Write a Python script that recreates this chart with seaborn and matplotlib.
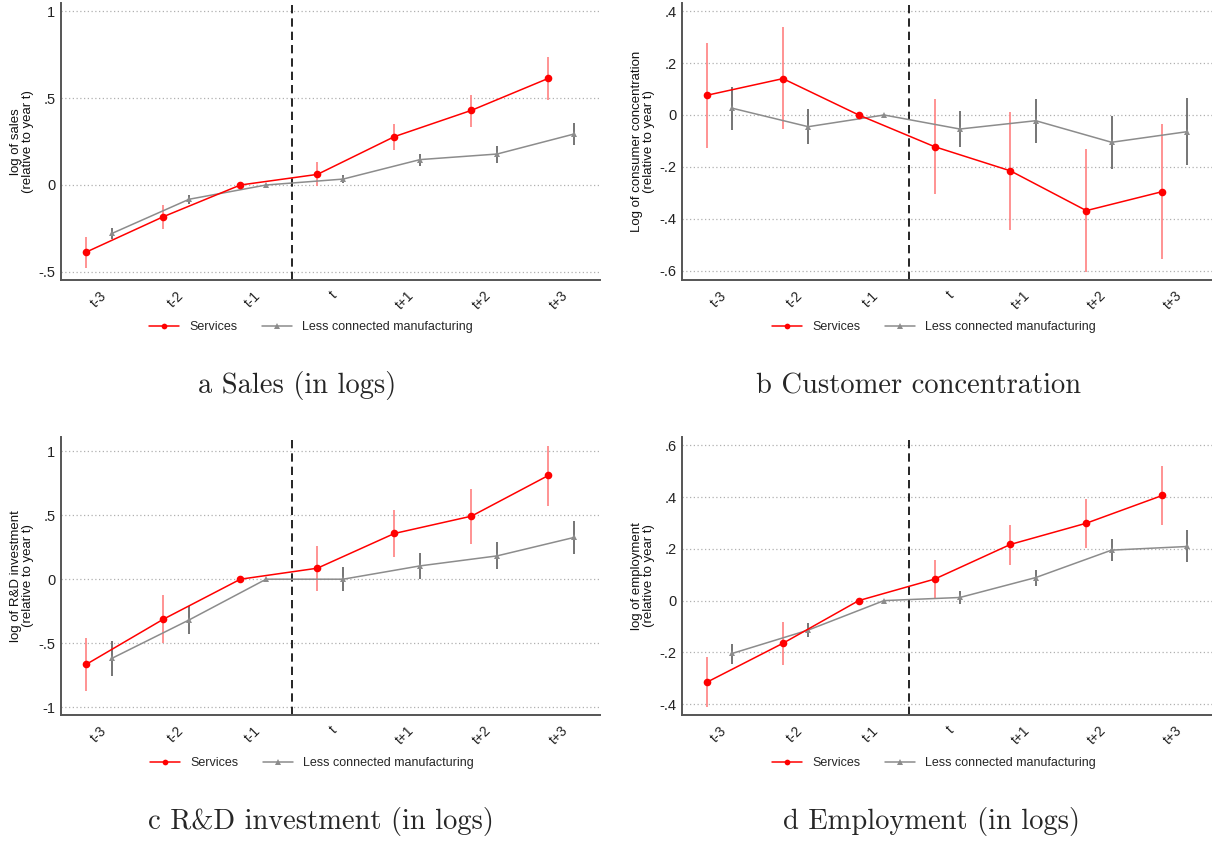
import numpy as np
import pandas as pd
import seaborn as sns
import matplotlib.pyplot as plt

# Dados
periodos = ['t-3', 't-2', 't-1', 't', 't+1', 't+2', 't+3']

# a) vendas
vendas_serv = [-0.385, -0.182, 0, 0.061, 0.278, 0.429, 0.613]
vendas_serv_lo = [-0.475, -0.251, 0, -0.006, 0.203, 0.335, 0.489]
vendas_serv_hi = [-0.300, -0.115, 0, 0.130, 0.350, 0.519, 0.737]
vendas_manu = [-0.278, -0.082, 0, 0.034, 0.146, 0.178, 0.293]
vendas_manu_lo = [-0.308, -0.109, 0, 0.010, 0.110, 0.128, 0.232]
vendas_manu_hi = [-0.247, -0.057, 0, 0.058, 0.178, 0.226, 0.356]

# b) concentração de clientes
conc_serv = [0.076, 0.140, 0, -0.122, -0.215, -0.368, -0.295]
conc_serv_lo = [-0.126, -0.055, 0, -0.303, -0.442, -0.605, -0.554]
conc_serv_hi = [0.276, 0.337, 0, 0.060, 0.012, -0.131, -0.036]
conc_manu = [0.026, -0.045, 0, -0.054, -0.022, -0.105, -0.064]
conc_manu_lo = [-0.056, -0.112, 0, -0.123, -0.106, -0.209, -0.191]
conc_manu_hi = [0.106, 0.023, 0, 0.014, 0.063, -0.003, 0.065]

# c) P&D
rd_serv = [-0.664, -0.312, 0, 0.086, 0.357, 0.492, 0.810]
rd_serv_lo = [-0.872, -0.500, 0, -0.091, 0.174, 0.276, 0.573]
rd_serv_hi = [-0.458, -0.125, 0, 0.260, 0.539, 0.706, 1.042]
rd_manu = [-0.617, -0.318, 0, 0, 0.104, 0.182, 0.326]
rd_manu_lo = [-0.755, -0.424, 0, -0.091, 0.000, 0.076, 0.198]
rd_manu_hi = [-0.482, -0.208, 0, 0.094, 0.206, 0.289, 0.451]

# d) emprego
emp_serv = [-0.315, -0.165, 0, 0.083, 0.217, 0.299, 0.406]
emp_serv_lo = [-0.413, -0.248, 0, 0.008, 0.139, 0.205, 0.292]
emp_serv_hi = [-0.217, -0.084, 0, 0.157, 0.293, 0.394, 0.521]
emp_manu = [-0.204, -0.114, 0, 0.012, 0.089, 0.195, 0.209]
emp_manu_lo = [-0.245, -0.142, 0, -0.013, 0.057, 0.152, 0.148]
emp_manu_hi = [-0.168, -0.088, 0, 0.037, 0.119, 0.237, 0.271]

sns.set_theme(style="white")
plt.rcParams['font.family'] = ['Liberation Sans', 'DejaVu Sans']

fig = plt.figure(figsize=(12.12, 8.42), dpi=100)

W, H = 1212, 842
RED = '#ff0000'
RED_CI = '#ff8080'
GREY = '#8c8c8c'
GREY_CI = '#6a6a6a'


def painel(pos, serv, s_lo, s_hi, manu, m_lo, m_hi, yticks, ylabs, ylim,
           ylabel, leg_xy, caption, cap_xy):
    ax = fig.add_axes(pos)
    x = np.arange(1, len(periodos) + 1)
    xs = x.astype(float)
    xm = x + 1 / 3

    ax.vlines(xs, s_lo, s_hi, color=RED_CI, lw=1.2, zorder=2)
    ax.vlines(xm, m_lo, m_hi, color=GREY_CI, lw=1.3, zorder=2)

    df_s = pd.DataFrame({'x': xs, 'y': serv})
    df_m = pd.DataFrame({'x': xm, 'y': manu})
    sns.lineplot(data=df_s, x='x', y='y', ax=ax, color=RED, marker='o',
                 markersize=5.5, markeredgewidth=0, linewidth=1.1,
                 label='Services', zorder=4)
    sns.lineplot(data=df_m, x='x', y='y', ax=ax, color=GREY, marker='^',
                 markersize=5, markeredgewidth=0, linewidth=1.1,
                 label='Less connected manufacturing', zorder=3)

    ax.axvline(3 + 2 / 3, color='black', lw=1.2, ls=(0, (5, 3)), zorder=1)

    ax.set_xlim(0.67, 7.67)
    ax.set_ylim(*ylim)
    ax.set_xticks(x + 1 / 6)
    ax.set_xticklabels(periodos, rotation=45, ha='right', va='top',
                       rotation_mode='anchor', fontsize=10)
    ax.set_yticks(yticks)
    ax.set_yticklabels(ylabs, fontsize=10.5)
    ax.tick_params(axis='both', length=0, pad=4, colors='#222222')
    ax.tick_params(axis='x', pad=6)
    ax.yaxis.grid(True, ls=(0, (1, 2)), color='#b0b0b0', lw=0.9)
    ax.set_axisbelow(True)

    for s in ['top', 'right']:
        ax.spines[s].set_visible(False)
    for s in ['left', 'bottom']:
        ax.spines[s].set_color('#555555')
        ax.spines[s].set_linewidth(1.4)

    ax.set_xlabel('')
    ax.set_ylabel(ylabel, fontsize=9.5, linespacing=1.05, color='#111111')
    ax.yaxis.set_label_coords(-0.05, 0.5)

    ax.legend(loc='center', bbox_to_anchor=(leg_xy[0] / W, 1 - leg_xy[1] / H),
              bbox_transform=fig.transFigure, ncol=2, frameon=False,
              fontsize=9, handlelength=2.4, columnspacing=2.0,
              handletextpad=0.8, markerscale=0.75)

    fig.text(cap_xy[0] / W, 1 - cap_xy[1] / H, caption, ha='center',
             va='center', fontsize=20.5, family=['cmr10', 'DejaVu Serif'])
    return ax


top_b, top_h = 1 - 280 / H, 277 / H
bot_b, bot_h = 1 - 715 / H, 278 / H
left_a, w_a = 61 / W, 539 / W
left_b, w_b = 682 / W, 531 / W

painel([left_a, top_b, w_a, top_h], vendas_serv, vendas_serv_lo, vendas_serv_hi,
       vendas_manu, vendas_manu_lo, vendas_manu_hi,
       [-0.5, 0, 0.5, 1], ['-.5', '0', '.5', '1'], (-0.546, 1.046),
       'log of sales\n(relative to year t)', (311, 327),
       'a Sales (in logs)', (297, 386))

painel([left_b, top_b, w_b, top_h], conc_serv, conc_serv_lo, conc_serv_hi,
       conc_manu, conc_manu_lo, conc_manu_hi,
       [-0.6, -0.4, -0.2, 0, 0.2, 0.4], ['-.6', '-.4', '-.2', '0', '.2', '.4'],
       (-0.635, 0.431),
       'Log of consumer concentration\n(relative to year t)', (934, 327),
       'b Customer concentration', (919, 386))

painel([left_a, bot_b, w_a, bot_h], rd_serv, rd_serv_lo, rd_serv_hi,
       rd_manu, rd_manu_lo, rd_manu_hi,
       [-1, -0.5, 0, 0.5, 1], ['-1', '-.5', '0', '.5', '1'], (-1.06, 1.11),
       'log of R&D investment\n(relative to year t)', (312, 763),
       'c R&D investment (in logs)', (321, 822))

painel([left_b, bot_b, w_b, bot_h], emp_serv, emp_serv_lo, emp_serv_hi,
       emp_manu, emp_manu_lo, emp_manu_hi,
       [-0.4, -0.2, 0, 0.2, 0.4, 0.6], ['-.4', '-.2', '0', '.2', '.4', '.6'],
       (-0.442, 0.632),
       'log of employment\n(relative to year t)', (934, 763),
       'd Employment (in logs)', (931, 822))

fig.savefig('out.png', dpi=100)
